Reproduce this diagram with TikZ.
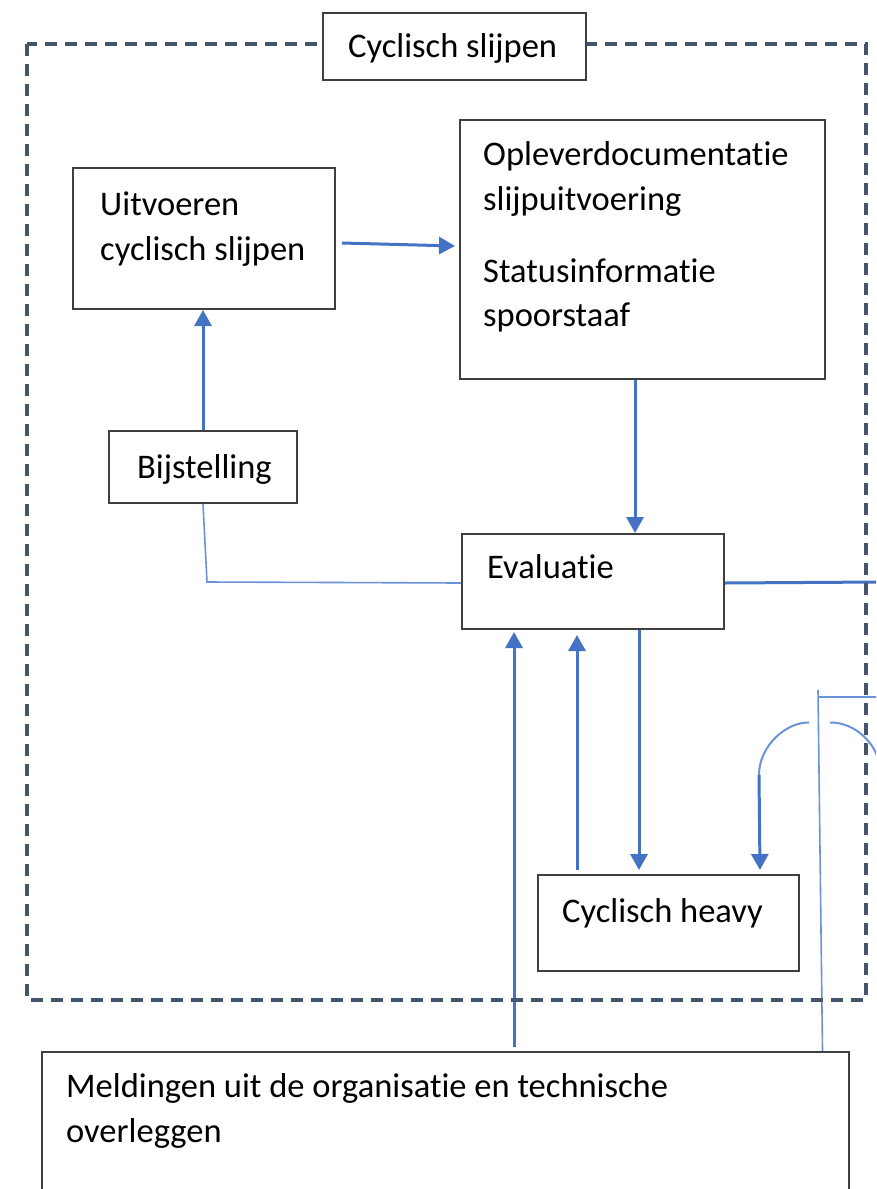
\documentclass[tikz,border=0pt]{standalone}
\usepackage{fontspec}
\setmainfont{Carlito}[Ligatures=NoCommon]
\usetikzlibrary{arrows.meta,calc}
\definecolor{lineblue}{HTML}{4472C4}
\definecolor{thinblue}{HTML}{6A93D8}
\definecolor{framecol}{HTML}{44546A}
\definecolor{boxgray}{HTML}{3F3F3F}
\begin{document}
\begin{tikzpicture}[x=1pt,y=-1pt,
 box/.style={draw=boxgray,line width=2pt,fill=white,inner sep=0pt,anchor=north west},
 txt/.style={anchor=base west,inner sep=0pt,font=\fontsize{34.5}{45}\selectfont,text=black},
 arr/.style={draw=lineblue,line width=3pt,-{Triangle[length=16pt,width=17pt]}},
 conn/.style={draw=lineblue,line width=3pt},
 thinconn/.style={draw=thinblue,line width=1.6pt},
 frame/.style={draw=framecol,line width=3.3pt,dash pattern=on 12pt off 8pt}]
\useasboundingbox (0,0) rectangle (876,1189);
\clip (0,0) rectangle (876,1189);
\fill[white] (0,0) rectangle (876,1189);

% boxes (geometry)
\node[box,minimum width=262pt,minimum height=141pt] (uitv) at (72,167) {};
\node[box,minimum width=365pt,minimum height=259pt] (oplev) at (459,119) {};
\node[box,minimum width=188pt,minimum height=72pt] (bijst) at (108,430) {};
\node[box,minimum width=262pt,minimum height=95pt] (eval) at (461,533) {};
\node[box,minimum width=261pt,minimum height=96pt] (heavy) at (537,874) {};
\node[box,minimum width=807pt,minimum height=199pt] (meld) at (41,1051) {};

% connectors
\coordinate (bcorner) at (207,582);
\coordinate (eout) at (880,582);
\coordinate (hopL) at (809,722.5);
\coordinate (hopR) at (830,722.5);
\coordinate (arcEnd) at (759,775);
\coordinate (rEnd) at (881,775);
\coordinate (vtop) at (818,690);
\coordinate (hstart) at (818,697);
\coordinate (hend) at (880,697);

\draw[arr] ([xshift=6pt,yshift=-4.5pt]uitv.east) -- ([xshift=-4pt,yshift=3.5pt]oplev.west);
\draw[arr] ([xshift=-7.5pt]oplev.south) -- ([xshift=-7.5pt]oplev.south |- eval.north);
\draw[arr] (bijst.north) -- (bijst.north |- uitv.south);
\draw[thinconn] ([yshift=-1.5pt]eval.west) -- (bcorner) -- (bijst.south);
\draw[conn] ([yshift=-1.5pt]eval.east) -- (eout);
\draw[arr] ([xshift=68.5pt,yshift=4pt]meld.north) -- ([xshift=-79pt,yshift=-2pt]eval.south);
\draw[arr] ([xshift=-91.5pt,yshift=4pt]heavy.north) -- ([xshift=-16pt,yshift=-5pt]eval.south);
\draw[arr] ([xshift=46pt]eval.south) -- ([xshift=-29.5pt,yshift=4pt]heavy.north);
\draw[thinconn,line width=2pt] (hopL) .. controls (786,722) and (759,746) .. (arcEnd);
\draw[arr] (arcEnd) -- ([xshift=91.5pt,yshift=4pt]heavy.north);
\draw[thinconn,line width=2pt] (hopR) .. controls (856,722) and (881,746) .. (rEnd);
\draw[thinconn] ([xshift=377pt]meld.north) -- (vtop);
\draw[thinconn] (hstart) -- (hend);

% dashed frame and title box
\draw[frame] (27,44) rectangle (866,1000);
\node[box,minimum width=263pt,minimum height=67pt] (title) at (322,12) {};

% texts
\node[txt] (tTitle) at (348,57) {Cyclisch slijpen};
\node[txt] (tU1) at (100,215) {Uitvoeren};
\node[txt] (tU2) at (100,260) {cyclisch slijpen};
\node[txt] (tO1) at (483,165) {Opleverdocumentatie};
\node[txt] (tO2) at (483,210) {slijpuitvoering};
\node[txt] (tO3) at (483,282) {Statusinformatie};
\node[txt] (tO4) at (483,326) {spoorstaaf};
\node[txt] (tB) at (137,478) {Bijstelling};
\node[txt] (tE) at (487,578) {Evaluatie};
\node[txt] (tH) at (562,922) {Cyclisch heavy};
\node[txt] (tM1) at (66,1097) {Meldingen uit de organisatie en technische};
\node[txt] (tM2) at (66,1142) {overleggen};
\end{tikzpicture}
\end{document}
